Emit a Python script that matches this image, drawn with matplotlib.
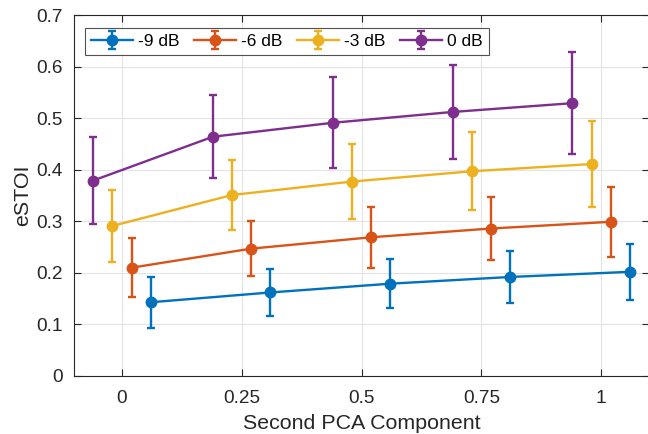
import matplotlib
matplotlib.use("Agg")
import matplotlib.pyplot as plt
import numpy as np

plt.rcParams['font.family'] = ['Liberation Sans', 'DejaVu Sans']

x_ticks = [0, 0.25, 0.5, 0.75, 1]
x_tick_labels = ['0', '0.25', '0.5', '0.75', '1']
labels = ['-9 dB', '-6 dB', '-3 dB', '0 dB']
offsets = [0.06, 0.02, -0.02, -0.06]
colors = ['#0072BD', '#D95319', '#EDB120', '#7E2F8E']

means_m9 = [0.143, 0.162, 0.179, 0.192, 0.202]
err_m9 = [0.049, 0.045, 0.048, 0.050, 0.054]
means_m6 = [0.210, 0.247, 0.269, 0.286, 0.299]
err_m6 = [0.057, 0.054, 0.059, 0.061, 0.068]
means_m3 = [0.291, 0.351, 0.377, 0.397, 0.411]
err_m3 = [0.070, 0.068, 0.073, 0.076, 0.084]
means_0 = [0.379, 0.464, 0.491, 0.512, 0.529]
err_0 = [0.085, 0.081, 0.088, 0.091, 0.099]

means = [means_m9, means_m6, means_m3, means_0]
errs = [err_m9, err_m6, err_m3, err_0]

fig = plt.figure(figsize=(6.48, 4.34), dpi=100)
ax = fig.add_axes([74/648, 1-376/434, (649-74)/648, (376-15)/434])

for m, e, off, c, lab in zip(means, errs, offsets, colors, labels):
    xs = np.array(x_ticks) + off
    ax.errorbar(xs, m, yerr=e, color=c, lw=1.7, marker='o', ms=7.5,
                capsize=3.2, capthick=1.7, elinewidth=1.7, label=lab, zorder=3)

ax.set_xlim(-0.1, 1.1)
ax.set_ylim(0, 0.7)
ax.set_xticks(x_ticks)
ax.set_xticklabels(x_tick_labels)
ax.set_yticks(np.arange(0, 0.71, 0.1))
ax.set_yticklabels(['0', '0.1', '0.2', '0.3', '0.4', '0.5', '0.6', '0.7'])
ax.grid(True, color='#e3e3e3', lw=0.8, zorder=0)
ax.set_axisbelow(True)
ax.tick_params(direction='in', length=5, labelsize=13.7, colors='#262626',
               top=True, right=True, pad=8)
ax.tick_params(axis='x', pad=10)
for s in ax.spines.values():
    s.set_color('#262626')
    s.set_linewidth(0.8)
ax.set_xlabel('Second PCA Component', fontsize=15.4, color='#262626', labelpad=5)
ax.set_ylabel('eSTOI', fontsize=15.4, color='#262626', labelpad=3)

leg = ax.legend(loc='upper left', ncol=4, fontsize=12.5, frameon=True,
                fancybox=False, edgecolor='#262626', handlelength=2.4,
                columnspacing=0.85, handletextpad=0.3, borderpad=0.35,
                borderaxespad=0, bbox_to_anchor=(11/575, 1-13/361))
leg.get_frame().set_linewidth(0.8)

fig.savefig('out.png', dpi=100)
